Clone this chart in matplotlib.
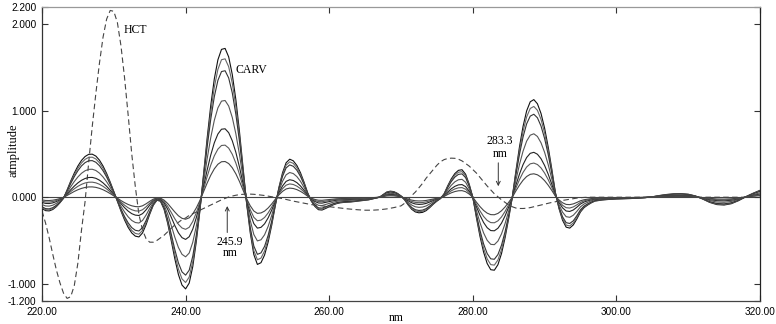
import numpy as np
import matplotlib
matplotlib.use("Agg")
import matplotlib.pyplot as plt

# wavelength grid (nm): 0.5 nm steps up to 299.5, then 1 nm steps
wl = np.concatenate([np.arange(220, 300, 0.5), np.arange(300, 321, 1.0)])

# first-derivative amplitude of the strongest CARV spectrum
carv_top = [
    -0.13, -0.155, -0.158, -0.142, -0.109, -0.064, -0.011, 0.085, 0.187, 0.28,     # 220-224.5
    0.361, 0.426, 0.471, 0.496, 0.498, 0.476, 0.429, 0.361, 0.275, 0.175,          # 225-229.5
    0.067, -0.046, -0.16, -0.263, -0.349, -0.413, -0.45, -0.459, -0.413, -0.316,   # 230-234.5
    -0.197, -0.093, -0.035, -0.046, -0.139, -0.30, -0.502, -0.712, -0.894, -1.016, # 235-239.5
    -1.06, -0.993, -0.801, -0.508, -0.151, 0.262, 0.682, 1.059, 1.369, 1.59,       # 240-244.5
    1.71, 1.721, 1.623, 1.42, 1.128, 0.761, 0.348, -0.072, -0.41, -0.663,          # 245-249.5
    -0.777, -0.757, -0.668, -0.517, -0.321, -0.094, 0.114, 0.283, 0.399, 0.44,     # 250-254.5
    0.421, 0.367, 0.283, 0.174, 0.051, -0.044, -0.106, -0.144, -0.148, -0.13,      # 255-259.5
    -0.11, -0.09, -0.075, -0.065, -0.06, -0.058, -0.055, -0.05, -0.045, -0.04,     # 260-264.5
    -0.035, -0.03, -0.02, -0.01, 0.0, 0.03, 0.06, 0.07, 0.065, 0.045,              # 265-269.5
    0.015, -0.03, -0.09, -0.14, -0.17, -0.18, -0.175, -0.155, -0.12, -0.08,        # 270-274.5
    -0.045, -0.015, 0.039, 0.131, 0.212, 0.274, 0.311, 0.318, 0.266, 0.151,        # 275-279.5
    0.0, -0.235, -0.452, -0.634, -0.766, -0.838, -0.844, -0.78, -0.651, -0.467,    # 280-284.5
    -0.244, 0.0, 0.302, 0.582, 0.82, 0.999, 1.104, 1.129, 1.081, 0.969,            # 285-289.5
    0.799, 0.581, 0.328, 0.055, -0.13, -0.266, -0.346, -0.357, -0.32, -0.25,       # 290-294.5
    -0.17, -0.12, -0.09, -0.065, -0.045, -0.038, -0.032, -0.028, -0.025, -0.022,   # 295-299.5
    -0.02, -0.018, -0.015, -0.01, -0.005, 0.005, 0.02, 0.032, 0.04, 0.042,         # 300-309
    0.035, 0.015, -0.02, -0.06, -0.085, -0.09, -0.075, -0.04, 0.005, 0.045, 0.08,  # 310-320
]

# relative size of each CARV spectrum (peak at 245 nm / strongest peak)
carv_rel = [1.0, 0.93, 0.85, 0.65, 0.46, 0.35, 0.24]
carv_colors = ['#111111', '#666666', '#333333', '#555555', '#222222', '#5a5a5a', '#444444']

# HCT first-derivative spectrum (dashed)
hct = [
    -0.16, -0.3, -0.47, -0.66, -0.84, -0.99, -1.11, -1.17, -1.15, -1.02,          # 220-224.5
    -0.76, -0.38, -0.05, 0.4, 0.82, 1.2, 1.55, 1.85, 2.06, 2.16,                   # 225-229.5
    2.15, 2.02, 1.75, 1.38, 0.95, 0.5, 0.12, -0.2, -0.38, -0.48,                   # 230-234.5
    -0.52, -0.52, -0.5, -0.47, -0.44, -0.4, -0.36, -0.32, -0.29, -0.26,            # 235-239.5
    -0.24, -0.21, -0.19, -0.17, -0.15, -0.13, -0.11, -0.09, -0.07, -0.05,          # 240-244.5
    -0.03, -0.013, 0.003, 0.014, 0.023, 0.03, 0.034, 0.036, 0.036, 0.034,          # 245-249.5
    0.03, 0.025, 0.02, 0.013, 0.006, 0.0, -0.008, -0.016, -0.025, -0.035,          # 250-254.5
    -0.045, -0.053, -0.062, -0.07, -0.078, -0.085, -0.09, -0.095, -0.1, -0.105,    # 255-259.5
    -0.11, -0.115, -0.12, -0.125, -0.13, -0.134, -0.138, -0.142, -0.145, -0.148,   # 260-264.5
    -0.15, -0.15, -0.15, -0.148, -0.145, -0.14, -0.135, -0.128, -0.12, -0.11,      # 265-269.5
    -0.1, -0.07, -0.03, 0.02, 0.06, 0.11, 0.16, 0.22, 0.27, 0.32,                  # 270-274.5
    0.37, 0.41, 0.435, 0.448, 0.452, 0.45, 0.44, 0.42, 0.39, 0.36,                 # 275-279.5
    0.32, 0.28, 0.23, 0.18, 0.13, 0.085, 0.04, 0.005, -0.03, -0.06,                # 280-284.5
    -0.09, -0.11, -0.125, -0.13, -0.13, -0.127, -0.12, -0.11, -0.1, -0.09,         # 285-289.5
    -0.08, -0.07, -0.06, -0.052, -0.045, -0.037, -0.03, -0.022, -0.015, -0.01,     # 290-294.5
    -0.005, -0.002, 0.0, 0.0, 0.0, 0.0, 0.0, 0.0, 0.0, 0.0,                        # 295-299.5
    0.0, 0.0, 0.0, 0.0, 0.0, 0.0, 0.0, 0.0, 0.0, 0.0,                              # 300-309
    0.0, 0.0, 0.0, 0.0, 0.0, 0.0, 0.0, 0.0, 0.0, 0.0, 0.0,                         # 310-320
]

xticks = [220, 240, 260, 280, 300, 320]
yticks = [-1.2, -1.0, 0.0, 1.0, 2.0, 2.2]

serif = 'Liberation Serif'
sans = 'Liberation Sans'

fig = plt.figure(figsize=(7.76, 3.24), dpi=100)
ax = fig.add_axes([42 / 776, 1 - 301 / 324, 718 / 776, 294 / 324])

ax.axhline(0, color='#444444', lw=0.8, zorder=1)
for rel, col in zip(carv_rel, carv_colors):
    ax.plot(wl, rel * np.array(carv_top), color=col, lw=0.8, zorder=3)
ax.plot(wl, hct, color='#444444', lw=0.8, dashes=(5, 3), zorder=2)

ax.set_xlim(220, 320)
ax.set_ylim(-1.2, 2.2)
ax.set_xticks(xticks)
ax.set_xticklabels(['%.2f' % v for v in xticks], family=sans)
ax.set_yticks(yticks)
ax.set_yticklabels(['%.3f' % v for v in yticks], family=sans)
ax.tick_params(direction='in', length=4, width=0.8, top=True, right=True,
               labelsize=7.2, color='#333333')
ax.tick_params(axis='y', pad=4)
ax.tick_params(axis='x', pad=4)

for side, col in [('top', '#999999'), ('left', '#333333'), ('bottom', '#444444'), ('right', '#222222')]:
    ax.spines[side].set_color(col)
    ax.spines[side].set_linewidth(0.9)

# labels
ax.text(231.3, 1.934, 'HCT', fontsize=8.5, family=serif, va='center', ha='left')
ax.text(246.9, 1.47, 'CARV', fontsize=8.5, family=serif, va='center', ha='left')

ax.annotate('', xy=(245.8, -0.07), xytext=(245.8, -0.44),
            arrowprops=dict(arrowstyle='->', lw=0.7, color='#333333', mutation_scale=7))
ax.text(246.2, -0.514, '245.9', fontsize=8.5, family=serif, ha='center', va='center')
ax.text(246.2, -0.64, 'nm', fontsize=8.5, family=serif, ha='center', va='center')

ax.annotate('', xy=(283.55, 0.095), xytext=(283.55, 0.43),
            arrowprops=dict(arrowstyle='->', lw=0.7, color='#333333', mutation_scale=7))
ax.text(283.8, 0.65, '283.3', fontsize=8.5, family=serif, ha='center', va='center')
ax.text(283.8, 0.50, 'nm', fontsize=8.5, family=serif, ha='center', va='center')

fig.text(14 / 776, 1 - 150 / 324, 'atmplitude', rotation=90, fontsize=9,
         family=serif, ha='center', va='center')
fig.text(396 / 776, 1 - 318 / 324, 'nm', fontsize=8.5, family=serif,
         ha='center', va='center')

fig.savefig('out.png', dpi=100)
